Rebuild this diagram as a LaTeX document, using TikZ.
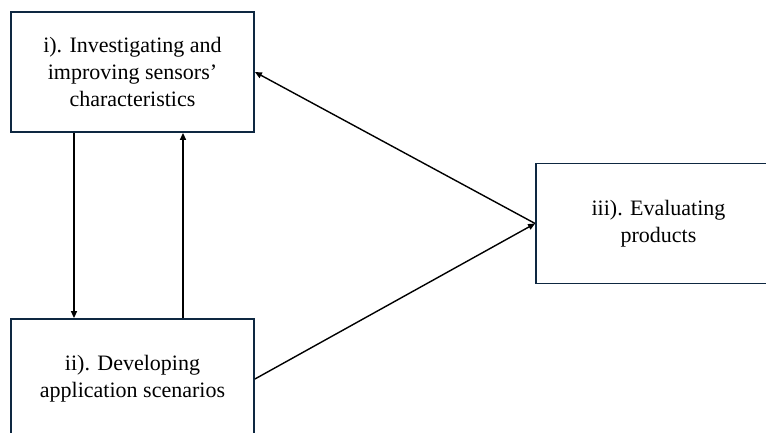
\documentclass[tikz,border=0pt]{standalone}
\usepackage{fontspec}
\setmainfont{Liberation Serif}
\usepackage{xcolor}
\usepackage{tikz}
\usetikzlibrary{arrows.meta,positioning}

\definecolor{boxline}{HTML}{0E2841}

\tikzset{
  stagebox/.style={draw=boxline,line width=1.8bp,fill=white,
    minimum width=243bp,minimum height=120bp,align=center,
    font=\fontsize{22bp}{27bp}\selectfont},
  flow/.style={line width=1.4bp,-{Triangle[length=7bp,width=6bp]}}
}

\begin{document}
\begin{tikzpicture}[x=1bp,y=-1bp]
\clip (0,0) rectangle (766,432);
\fill[white] (0,0) rectangle (766,432);

\node[stagebox] (sensors) at (132.5,72) {i). Investigating and\\improving sensors’\\characteristics};
\node[stagebox] (scenarios) at (132.5,379) {ii). Developing\\application scenarios};
\node[stagebox,minimum width=245bp] (products) at (658.5,223.5) {iii). Evaluating\\products};

\draw[flow] ([xshift=-58.5bp]sensors.south) -- ([xshift=-58.5bp]scenarios.north);
\draw[flow] ([xshift=50.5bp]scenarios.north) -- ([xshift=50.5bp]sensors.south);
\draw[flow] (products.west) -- (sensors.east);
\draw[flow] (scenarios.east) -- (products.west);
\end{tikzpicture}
\end{document}
